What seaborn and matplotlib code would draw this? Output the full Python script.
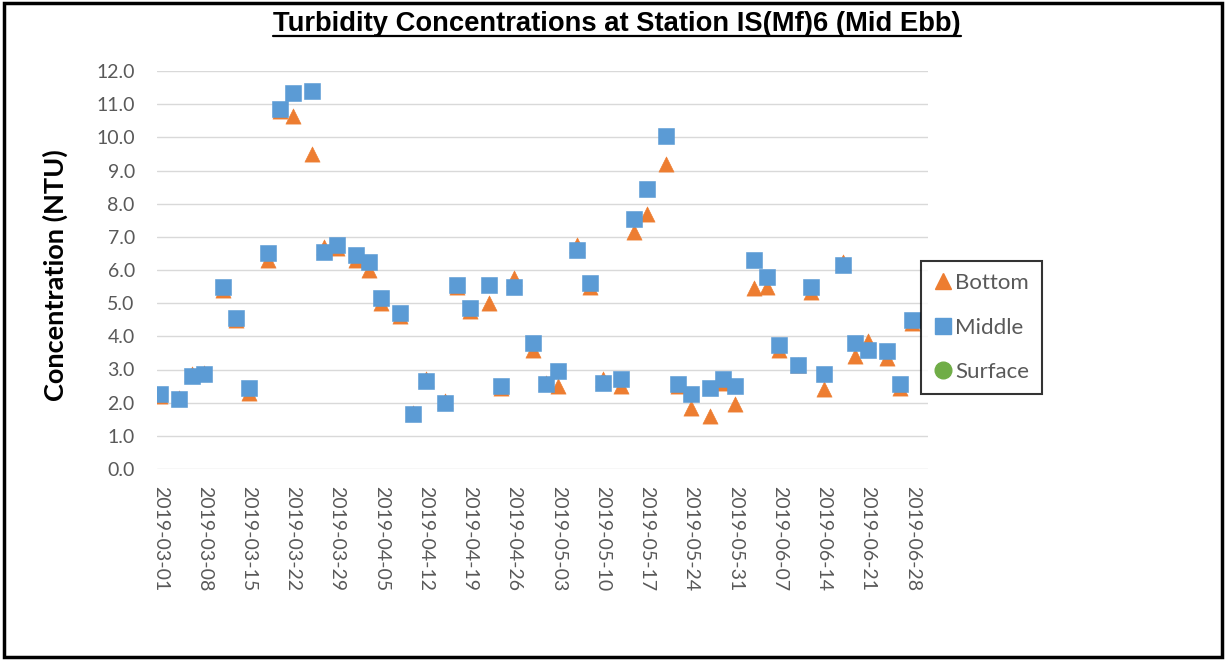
import matplotlib
matplotlib.use("Agg")
import matplotlib.pyplot as plt
import matplotlib.dates as mdates
from matplotlib.lines import Line2D
from matplotlib.patches import Rectangle
import numpy as np
import pandas as pd
import seaborn as sns

# Sampling dates (Mon / Wed / Fri)
dates = pd.to_datetime([
    "2019-03-01", "2019-03-04", "2019-03-06", "2019-03-08", "2019-03-11", "2019-03-13",
    "2019-03-15", "2019-03-18", "2019-03-20", "2019-03-22", "2019-03-25", "2019-03-27",
    "2019-03-29", "2019-04-01", "2019-04-03", "2019-04-05", "2019-04-08", "2019-04-10",
    "2019-04-12", "2019-04-15", "2019-04-17", "2019-04-19", "2019-04-22", "2019-04-24",
    "2019-04-26", "2019-04-29", "2019-05-01", "2019-05-03", "2019-05-06", "2019-05-08",
    "2019-05-10", "2019-05-13", "2019-05-15", "2019-05-17", "2019-05-20", "2019-05-22",
    "2019-05-24", "2019-05-27", "2019-05-29", "2019-05-31", "2019-06-03", "2019-06-05",
    "2019-06-07", "2019-06-10", "2019-06-12", "2019-06-14", "2019-06-17", "2019-06-19",
    "2019-06-21", "2019-06-24", "2019-06-26", "2019-06-28",
])

# Turbidity (NTU) by depth
bottom = [
    2.20, 2.15, 2.85, 2.90, 5.40, 4.50, 2.30, 6.30, 10.80, 10.65, 9.50, 6.70,
    6.65, 6.30, 6.00, 5.00, 4.60, 1.70, 2.70, 2.05, 5.50, 4.75, 5.00, 2.45,
    5.75, 3.60, 2.60, 2.50, 6.75, 5.50, 2.70, 2.50, 7.15, 7.70, 9.20, 2.50,
    1.85, 1.60, 2.60, 1.95, 5.45, 5.50, 3.60, 3.15, 5.35, 2.40, 6.25, 3.40,
    3.85, 3.35, 2.45, 4.40,
]
middle = [
    2.25, 2.10, 2.80, 2.85, 5.50, 4.55, 2.45, 6.50, 10.85, 11.35, 11.40, 6.55,
    6.75, 6.45, 6.25, 5.15, 4.70, 1.65, 2.65, 2.00, 5.55, 4.85, 5.55, 2.50,
    5.50, 3.80, 2.55, 2.95, 6.60, 5.60, 2.60, 2.70, 7.55, 8.45, 10.05, 2.55,
    2.25, 2.45, 2.70, 2.50, 6.30, 5.80, 3.75, 3.15, 5.50, 2.85, 6.15, 3.80,
    3.60, 3.55, 2.55, 4.50,
]
surface = [np.nan] * len(dates)

series = ["Bottom", "Middle", "Surface"]
colors = {"Bottom": "#ED7D31", "Middle": "#5B9BD5", "Surface": "#70AD47"}
markers = {"Bottom": "^", "Middle": "s", "Surface": "o"}

tick_dates = pd.date_range("2019-03-01", "2019-06-28", freq="7D")
y_ticks = np.arange(0, 13, 1)

df = pd.concat([
    pd.DataFrame({"Date": dates, "NTU": vals, "Depth": name})
    for name, vals in zip(series, [bottom, middle, surface])
])

sns.set_theme(style="white")
plt.rcParams["font.family"] = ["Lato", "DejaVu Sans"]

fig = plt.figure(figsize=(12.26, 6.60), dpi=100)
ax = fig.add_axes([157 / 1226, 1 - 469 / 660, (928 - 157) / 1226, (469 - 71) / 660])

for name in series:
    sub = df[df["Depth"] == name].dropna()
    if len(sub):
        sns.scatterplot(data=sub, x="Date", y="NTU", ax=ax, marker=markers[name],
                        color=colors[name], s=120, edgecolor=colors[name],
                        linewidth=0.4, legend=False, zorder=3)

d0 = mdates.date2num(dates[0])
d1 = mdates.date2num(dates[-1])
ax.set_xlim(d0 - 0.5, d1 + 2.5)
ax.set_ylim(0, 12)
ax.set_xticks(mdates.date2num(tick_dates))
ax.xaxis.set_major_formatter(mdates.DateFormatter("%Y-%m-%d"))
ax.set_yticks(y_ticks)
ax.set_yticklabels([f"{v:.1f}" for v in y_ticks])
ax.tick_params(axis="x", length=0, pad=12, labelsize=14, labelcolor="#595959",
               labelrotation=-90)
ax.tick_params(axis="y", length=0, pad=16, labelsize=14, labelcolor="#595959")
for lbl in ax.get_xticklabels():
    lbl.set_verticalalignment("top")
    lbl.set_horizontalalignment("center")

ax.grid(axis="y", color="#D9D9D9", linewidth=1.0)
ax.grid(axis="x", visible=False)
ax.set_axisbelow(True)
for sp in ax.spines.values():
    sp.set_visible(False)

ax.set_xlabel("")
ax.set_ylabel("")
fig.text(55 / 1226, 1 - 275 / 660, "Concentration (NTU)", rotation=90,
         ha="center", va="center", fontsize=19.5, fontweight="bold", color="black")

# Title with underline
title = fig.text(617 / 1226, 1 - 24 / 660,
                 "Turbidity Concentrations at Station IS(Mf)6 (Mid Ebb)",
                 ha="center", va="center", fontsize=19.7, fontweight="bold",
                 family=["Liberation Sans", "DejaVu Sans"], color="black")
fig.canvas.draw()
bb = title.get_window_extent().transformed(fig.transFigure.inverted())
fig.add_artist(Line2D([bb.x0, bb.x1], [bb.y0 + 0.002, bb.y0 + 0.002],
                      transform=fig.transFigure, color="black", linewidth=1.6))

# Legend
handles = [Line2D([], [], linestyle="none", marker=markers[n], color=colors[n],
                  markersize=12, label=n) for n in series]
leg = fig.legend(handles=handles, loc="upper left",
                 bbox_to_anchor=(921 / 1226, 1 - 261 / 660), borderaxespad=0,
                 frameon=True, fancybox=False, edgecolor="black", fontsize=16,
                 labelcolor="#595959", labelspacing=1.1, handletextpad=0.1,
                 handlelength=0.9, borderpad=0.55)
leg.get_frame().set_linewidth(1.5)

# Outer border
fig.add_artist(Rectangle((4 / 1226, 3 / 660), 1 - 8 / 1226, 1 - 6 / 660,
                         transform=fig.transFigure, fill=False,
                         edgecolor="black", linewidth=2.5))

fig.savefig("out.png", dpi=100)
